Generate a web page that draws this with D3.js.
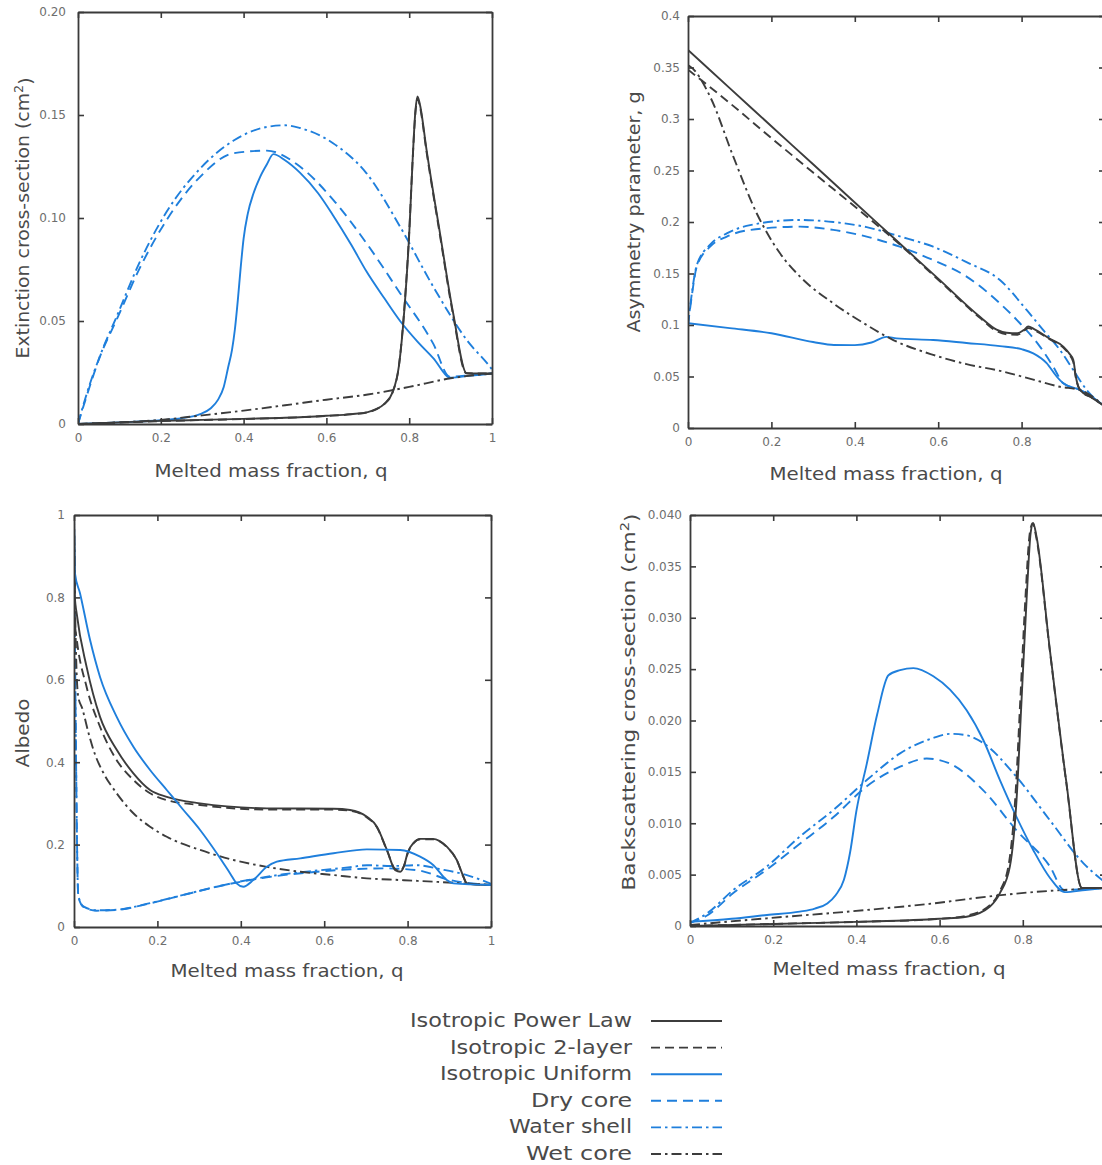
<!DOCTYPE html>
<html>
<head>
<meta charset="utf-8">
<script src="https://cdn.jsdelivr.net/npm/d3@7"></script>
<style>
  html, body { margin: 0; padding: 0; background: #ffffff; }
  svg { display: block; }
  text { font-family: "DejaVu Sans", "Open Sans", sans-serif; }
</style>
</head>
<body>
<svg id="fig" width="1102" height="1165"></svg>
<script>
// ---- Series labels (legend order) ----
const seriesNames = ["Isotropic Power Law", "Isotropic 2-layer", "Isotropic Uniform",
                     "Dry core", "Water shell", "Wet core"];

// ---- Shared x axis: melted mass fraction q ----
const qTicks = [0, 0.2, 0.4, 0.6, 0.8, 1];
const qTickLabels = ["0", "0.2", "0.4", "0.6", "0.8", "1"];

// ---- Extinction cross-section (cm^2), pairs [q, value] ----
const extTicks = [0, 0.05, 0.10, 0.15, 0.20];
const extTickLabels = ["0", "0.05", "0.10", "0.15", "0.20"];
const extPowerLaw = [[0,0],[0.1,0.0008],[0.2,0.0015],[0.3,0.002],[0.4,0.0025],[0.5,0.003],[0.6,0.004],[0.66,0.0048],[0.7,0.0058],[0.72,0.0072],[0.74,0.0098],[0.76,0.0155],[0.775,0.028],[0.79,0.06],[0.8,0.092],[0.808,0.127],[0.815,0.152],[0.82,0.159],[0.826,0.155],[0.842,0.133],[0.874,0.093],[0.906,0.054],[0.939,0.0246],[0.97,0.0245],[1,0.0245]];
const ext2Layer = [[0,0],[0.1,0.0007],[0.2,0.0014],[0.3,0.0019],[0.4,0.0024],[0.5,0.003],[0.6,0.0039],[0.66,0.0047],[0.7,0.0057],[0.72,0.0071],[0.74,0.0097],[0.76,0.0155],[0.775,0.028],[0.79,0.061],[0.8,0.093],[0.808,0.127],[0.815,0.151],[0.82,0.158],[0.826,0.154],[0.842,0.132],[0.874,0.092],[0.906,0.053],[0.938,0.0246],[0.97,0.0245],[1,0.0245]];
const extUniform = [[0,0],[0.1,0.0008],[0.2,0.0018],[0.25,0.0028],[0.295,0.0048],[0.32,0.0075],[0.338,0.0117],[0.352,0.018],[0.363,0.0278],[0.372,0.036],[0.379,0.046],[0.386,0.06],[0.393,0.076],[0.4,0.09],[0.41,0.102],[0.424,0.112],[0.44,0.12],[0.456,0.126],[0.472,0.131],[0.5,0.128],[0.536,0.122],[0.58,0.112],[0.617,0.101],[0.66,0.087],[0.697,0.074],[0.74,0.061],[0.778,0.05],[0.82,0.04],[0.858,0.032],[0.9,0.0225],[0.95,0.0235],[1,0.0245]];
const extDryCore = [[0,0],[0.02,0.013],[0.053,0.0327],[0.093,0.0505],[0.15,0.076],[0.214,0.099],[0.295,0.12],[0.375,0.1314],[0.456,0.1327],[0.536,0.125],[0.617,0.1087],[0.697,0.0877],[0.778,0.0635],[0.858,0.039],[0.898,0.023],[0.95,0.0237],[1,0.0245]];
const extWaterShell = [[0,0],[0.02,0.014],[0.053,0.033],[0.093,0.052],[0.15,0.079],[0.214,0.103],[0.295,0.124],[0.375,0.1375],[0.456,0.1442],[0.5,0.145],[0.536,0.1437],[0.617,0.1362],[0.697,0.1217],[0.778,0.0958],[0.858,0.0667],[0.939,0.0408],[0.995,0.0278],[1,0.0265]];
const extWetCore = [[0,0],[0.1,0.0008],[0.2,0.002],[0.3,0.0042],[0.4,0.0065],[0.5,0.0091],[0.6,0.0118],[0.7,0.0143],[0.8,0.018],[0.9,0.0222],[1,0.0245]];

// ---- Asymmetry parameter g ----
const asymTicks = [0, 0.05, 0.1, 0.15, 0.2, 0.25, 0.3, 0.35, 0.4];
const asymTickLabels = ["0", "0.05", "0.1", "0.15", "0.2", "0.25", "0.3", "0.35", "0.4"];
const asymPowerLaw = [[0,0.367],[0.1,0.33],[0.2,0.293],[0.3,0.256],[0.4,0.219],[0.5,0.182],[0.6,0.145],[0.7,0.108],[0.74,0.0955],[0.764,0.0925],[0.79,0.092],[0.805,0.095],[0.816,0.0985],[0.83,0.096],[0.868,0.0865],[0.9,0.079],[0.915,0.072],[0.924,0.066],[0.93,0.05],[0.94,0.037],[0.97,0.029],[1,0.021]];
const asym2Layer = [[0,0.348],[0.1,0.3155],[0.2,0.2815],[0.3,0.248],[0.4,0.215],[0.5,0.181],[0.6,0.144],[0.7,0.107],[0.74,0.094],[0.764,0.091],[0.79,0.0905],[0.805,0.094],[0.816,0.097],[0.83,0.095],[0.868,0.086],[0.9,0.078],[0.915,0.071],[0.924,0.064],[0.93,0.049],[0.94,0.037],[0.97,0.029],[1,0.021]];
const asymUniform = [[0,0.1017],[0.1,0.097],[0.2,0.092],[0.3,0.0835],[0.35,0.0806],[0.4,0.0805],[0.44,0.083],[0.476,0.0885],[0.5,0.087],[0.588,0.0854],[0.668,0.0825],[0.748,0.0795],[0.8,0.0765],[0.828,0.0725],[0.86,0.063],[0.884,0.05],[0.9,0.0434],[0.94,0.037],[1,0.021]];
const asymDryCore = [[0,0.1],[0.008,0.125],[0.021,0.1566],[0.053,0.176],[0.093,0.1858],[0.149,0.1923],[0.2686,0.1955],[0.3485,0.1923],[0.4285,0.1858],[0.508,0.176],[0.588,0.163],[0.668,0.147],[0.748,0.121],[0.796,0.1017],[0.844,0.079],[0.876,0.0595],[0.9,0.0434],[0.94,0.037],[1,0.021]];
const asymWaterShell = [[0,0.1],[0.008,0.127],[0.021,0.158],[0.053,0.178],[0.093,0.189],[0.149,0.197],[0.2686,0.202],[0.3485,0.2],[0.4285,0.195],[0.508,0.186],[0.588,0.176],[0.668,0.161],[0.748,0.1437],[0.812,0.1146],[0.852,0.095],[0.892,0.0757],[0.924,0.0563],[0.956,0.0369],[1,0.021]];
const asymWetCore = [[0,0.352],[0.005,0.351],[0.053,0.3217],[0.1087,0.2634],[0.1647,0.2085],[0.2206,0.1696],[0.2686,0.147],[0.3485,0.121],[0.4285,0.1],[0.4924,0.0854],[0.588,0.071],[0.668,0.062],[0.748,0.0555],[0.828,0.047],[0.892,0.04],[0.94,0.0369],[1,0.021]];

// ---- Albedo ----
const albTicks = [0, 0.2, 0.4, 0.6, 0.8, 1];
const albTickLabels = ["0", "0.2", "0.4", "0.6", "0.8", "1"];
const albPowerLaw = [[0,1],[0.002,0.8],[0.0064,0.761],[0.0301,0.632],[0.0624,0.51],[0.1024,0.43],[0.1424,0.373],[0.1824,0.3325],[0.2224,0.316],[0.3024,0.3],[0.4624,0.288],[0.6224,0.287],[0.662,0.284],[0.7024,0.2675],[0.7264,0.2435],[0.7504,0.187],[0.7704,0.138],[0.7824,0.134],[0.792,0.15],[0.8,0.18],[0.815,0.205],[0.83,0.214],[0.86,0.214],[0.894,0.195],[0.918,0.1626],[0.934,0.122],[0.942,0.106],[0.97,0.103],[1,0.102]];
const alb2Layer = [[0,1],[0.002,0.74],[0.0064,0.7],[0.0301,0.583],[0.0624,0.486],[0.1024,0.405],[0.1424,0.357],[0.1824,0.3245],[0.2224,0.308],[0.3024,0.296],[0.4624,0.285],[0.6224,0.285],[0.662,0.282],[0.7024,0.266],[0.7264,0.242],[0.7504,0.186],[0.7704,0.14],[0.7824,0.136],[0.792,0.15],[0.8,0.178],[0.815,0.204],[0.83,0.213],[0.86,0.213],[0.894,0.194],[0.918,0.162],[0.934,0.121],[0.942,0.106],[0.97,0.103],[1,0.102]];
const albUniform = [[0,1],[0.002,0.86],[0.0144,0.81],[0.0384,0.697],[0.0624,0.607],[0.1024,0.51],[0.1424,0.4375],[0.1824,0.381],[0.2224,0.3325],[0.2624,0.284],[0.3024,0.2354],[0.3424,0.179],[0.3744,0.13],[0.39,0.106],[0.406,0.0978],[0.43,0.114],[0.4624,0.146],[0.4864,0.1585],[0.5424,0.1667],[0.6224,0.179],[0.7024,0.1885],[0.7824,0.187],[0.83,0.1707],[0.862,0.15],[0.894,0.114],[0.91,0.106],[1,0.102]];
const albDryCore = [[0,1],[0.004,0.5],[0.0104,0.0736],[0.0224,0.049],[0.0544,0.0396],[0.1024,0.0413],[0.1824,0.0575],[0.2624,0.0777],[0.3424,0.0978],[0.4224,0.114],[0.5024,0.126],[0.5824,0.134],[0.662,0.14],[0.742,0.1424],[0.822,0.138],[0.902,0.114],[1,0.102]];
const albWaterShell = [[0,1],[0.004,0.5],[0.0104,0.076],[0.0224,0.05],[0.0544,0.0405],[0.1024,0.042],[0.1824,0.058],[0.2624,0.078],[0.3424,0.098],[0.4224,0.115],[0.5024,0.128],[0.5824,0.137],[0.662,0.145],[0.7024,0.15],[0.76,0.148],[0.822,0.15],[0.88,0.14],[0.942,0.126],[1,0.105]];
const albWetCore = [[0,1],[0.004,0.7],[0.01,0.56],[0.02,0.53],[0.035,0.47],[0.05,0.42],[0.07,0.375],[0.1024,0.3245],[0.1424,0.276],[0.1824,0.2435],[0.2224,0.219],[0.3024,0.187],[0.3824,0.1626],[0.4624,0.146],[0.5424,0.134],[0.6224,0.126],[0.7024,0.118],[0.7824,0.114],[0.862,0.11],[1,0.102]];

// ---- Backscattering cross-section (cm^2) ----
const backTicks = [0, 0.005, 0.010, 0.015, 0.020, 0.025, 0.030, 0.035, 0.040];
const backTickLabels = ["0", "0.005", "0.010", "0.015", "0.020", "0.025", "0.030", "0.035", "0.040"];
const backPowerLaw = [[0,0],[0.2,0.0002],[0.4,0.0004],[0.6,0.0007],[0.665,0.0009],[0.7212,0.0019],[0.745,0.0032],[0.769,0.0058],[0.785,0.0123],[0.797,0.022],[0.809,0.0317],[0.819,0.0383],[0.825,0.0392],[0.833,0.0379],[0.865,0.0269],[0.905,0.0139],[0.942,0.0037],[0.97,0.0037],[1,0.0037]];
const back2Layer = [[0,0],[0.2,0.0002],[0.4,0.0004],[0.6,0.0007],[0.665,0.001],[0.72,0.002],[0.745,0.0034],[0.767,0.0062],[0.782,0.0125],[0.794,0.022],[0.806,0.0317],[0.817,0.0383],[0.824,0.0392],[0.832,0.0379],[0.865,0.0268],[0.905,0.0138],[0.942,0.0037],[0.97,0.0037],[1,0.0037]];
const backUniform = [[0,0.0004],[0.1,0.0007],[0.185,0.00107],[0.264,0.0014],[0.3,0.0017],[0.33,0.0022],[0.35,0.003],[0.37,0.0045],[0.385,0.0072],[0.4,0.0112],[0.425,0.0158],[0.45,0.0206],[0.477,0.0244],[0.505,0.0249],[0.537,0.0251],[0.585,0.0243],[0.625,0.023],[0.665,0.021],[0.705,0.0181],[0.745,0.0142],[0.785,0.0106],[0.825,0.0074],[0.865,0.0047],[0.901,0.0033],[0.95,0.0035],[1,0.0037]];
const backDryCore = [[0,0.0003],[0.04,0.001],[0.104,0.0032],[0.185,0.0055],[0.264,0.008],[0.345,0.0106],[0.425,0.0136],[0.505,0.0155],[0.569,0.0163],[0.625,0.0158],[0.705,0.0132],[0.785,0.0093],[0.865,0.0058],[0.9,0.0035],[0.95,0.0036],[1,0.0037]];
const backWaterShell = [[0,0.0003],[0.04,0.0012],[0.104,0.0035],[0.185,0.0058],[0.264,0.0087],[0.345,0.0113],[0.425,0.0142],[0.505,0.0168],[0.585,0.0183],[0.625,0.0187],[0.66,0.0186],[0.705,0.0178],[0.785,0.0145],[0.865,0.0103],[0.946,0.0061],[0.99,0.0045],[1,0.0042]];
const backWetCore = [[0,0.0001],[0.185,0.00075],[0.425,0.00156],[0.585,0.0022],[0.713,0.00285],[0.825,0.0033],[0.897,0.0035],[1,0.0037]];

// ---- Line styles, in legend order ----
const GRAY = "#3c3c3c", BLUE = "#1f7fdc";
const styles = [
  { color: GRAY, dash: null },
  { color: GRAY, dash: "9,5" },
  { color: BLUE, dash: null },
  { color: BLUE, dash: "10,6" },
  { color: BLUE, dash: "10,4,2.5,4" },
  { color: GRAY, dash: "10,4,2.5,4" }
];

// ---- Panel layout ----
const panels = [
  { left: 78,  top: 12,  right: 492,  bottom: 424, yMax: 0.20, yTicks: extTicks,  yLabels: extTickLabels, pad: 12,
    series: [extUniform, extDryCore, extWaterShell, extWetCore, ext2Layer, extPowerLaw],
    order: [2, 3, 4, 5, 1, 0],
    yTitle: ["Extinction cross-section (cm", "2", ")"], yTitleX: 29, yTitleY: 218, yTitleLen: 281,
    xTitleX: 271, xTitleY: 477 },
  { left: 688, top: 16,  right: 1105, bottom: 428, yMax: 0.4,  yTicks: asymTicks, yLabels: asymTickLabels, pad: 8,
    series: [asymUniform, asymDryCore, asymWaterShell, asymWetCore, asym2Layer, asymPowerLaw],
    order: [2, 3, 4, 5, 1, 0],
    yTitle: ["Asymmetry parameter, g"], yTitleX: 640, yTitleY: 212, yTitleLen: 241,
    xTitleX: 886, xTitleY: 480 },
  { left: 74,  top: 515, right: 491,  bottom: 927, yMax: 1,    yTicks: albTicks,  yLabels: albTickLabels, pad: 9,
    series: [albDryCore, albWaterShell, albWetCore, alb2Layer, albPowerLaw, albUniform],
    order: [3, 4, 5, 1, 0, 2],
    yTitle: ["Albedo"], yTitleX: 29, yTitleY: 733, yTitleLen: 69,
    xTitleX: 287, xTitleY: 977 },
  { left: 690, top: 515, right: 1106, bottom: 926, yMax: 0.040, yTicks: backTicks, yLabels: backTickLabels, pad: 8,
    series: [backDryCore, backWaterShell, backWetCore, backUniform, back2Layer, backPowerLaw],
    order: [3, 4, 5, 2, 1, 0],
    yTitle: ["Backscattering cross-section (cm", "2", ")"], yTitleX: 635, yTitleY: 702, yTitleLen: 377,
    xTitleX: 889, xTitleY: 975 }
];

const W = 1102, H = 1165;
const svg = d3.select("#fig");
svg.append("rect").attr("width", W).attr("height", H).attr("fill", "#ffffff");

const AXIS_COLOR = "#3a3a3a", LABEL_COLOR = "#6e6e6e", TITLE_COLOR = "#4a4a4a";

function addTitle(g, parts, attrs) {
  const t = g.append("text");
  Object.entries(attrs).forEach(([k, v]) => t.attr(k, v));
  parts.forEach((p, i) => {
    const sp = t.append("tspan").text(p);
    if (parts.length === 3 && i === 1) sp.attr("dy", "-0.45em").attr("font-size", "0.68em");
    if (parts.length === 3 && i === 2) sp.attr("dy", "0.45em");
  });
  return t;
}

panels.forEach(p => {
  const x = d3.scaleLinear().domain([0, 1]).range([p.left, p.right]);
  const y = d3.scaleLinear().domain([0, p.yMax]).range([p.bottom, p.top]);
  const g = svg.append("g");

  // curves
  const line = d3.line().x(d => x(d[0])).y(d => y(d[1])).curve(d3.curveMonotoneX);
  const clipId = "clip" + p.left + "_" + p.top;
  svg.append("clipPath").attr("id", clipId).append("rect")
    .attr("x", p.left).attr("y", p.top - 2).attr("width", p.right - p.left).attr("height", p.bottom - p.top + 2);
  const curves = g.append("g").attr("clip-path", `url(#${clipId})`);
  p.series.forEach((s, i) => {
    const st = styles[p.order[i]];
    curves.append("path").datum(s)
      .attr("d", line)
      .attr("fill", "none")
      .attr("stroke", st.color)
      .attr("stroke-width", 1.9)
      .attr("stroke-linejoin", "round")
      .attr("stroke-dasharray", st.dash);
  });

  // axes: labelled bottom/left, tick-only top/right, ticks pointing inwards
  const fmtX = (d, i) => qTickLabels[i];
  const fmtY = (d, i) => p.yLabels[i];
  const styleAxis = sel => {
    sel.select(".domain").attr("stroke", AXIS_COLOR).attr("stroke-width", 1.8);
    sel.selectAll(".tick line").attr("stroke", AXIS_COLOR).attr("stroke-width", 1.6);
    sel.selectAll(".tick text").attr("fill", LABEL_COLOR).attr("font-size", 12)
      .attr("font-family", "DejaVu Sans, sans-serif");
  };
  const bottomAxis = g.append("g").attr("transform", `translate(0,${p.bottom})`)
    .call(d3.axisBottom(x).tickValues(qTicks).tickFormat(fmtX).tickSizeInner(-6).tickSizeOuter(0).tickPadding(9))
    .call(styleAxis);
  // labels whose tick falls past the page edge are not drawn
  bottomAxis.selectAll(".tick").filter(d => x(d) > W - 6).select("text").remove();
  g.append("g").attr("transform", `translate(0,${p.top})`)
    .call(d3.axisTop(x).tickValues(qTicks).tickFormat("").tickSizeInner(-6).tickSizeOuter(0))
    .call(styleAxis);
  g.append("g").attr("transform", `translate(${p.left},0)`)
    .call(d3.axisLeft(y).tickValues(p.yTicks).tickFormat(fmtY).tickSizeInner(-6).tickSizeOuter(0).tickPadding(p.pad))
    .call(styleAxis);
  g.append("g").attr("transform", `translate(${p.right},0)`)
    .call(d3.axisRight(y).tickValues(p.yTicks).tickFormat("").tickSizeInner(-6).tickSizeOuter(0))
    .call(styleAxis);

  // axis titles
  addTitle(g, ["Melted mass fraction, q"], {
    x: p.xTitleX, y: p.xTitleY, "text-anchor": "middle", "font-size": 18.5,
    fill: TITLE_COLOR, textLength: 233, lengthAdjust: "spacingAndGlyphs"
  });
  addTitle(g, p.yTitle, {
    transform: `translate(${p.yTitleX},${p.yTitleY}) rotate(-90)`, "text-anchor": "middle",
    "font-size": 18.5, fill: TITLE_COLOR, textLength: p.yTitleLen, lengthAdjust: "spacingAndGlyphs"
  });
});

// ---- Legend ----
const legend = svg.append("g");
const legendWidths = [222, 182, 192, 101, 123, 106];
seriesNames.forEach((name, i) => {
  const base = 1027 + i * 26.6;
  legend.append("text")
    .attr("x", 632).attr("y", base)
    .attr("text-anchor", "end").attr("font-size", 20).attr("fill", TITLE_COLOR)
    .attr("textLength", legendWidths[i]).attr("lengthAdjust", "spacingAndGlyphs")
    .text(name);
  legend.append("line")
    .attr("x1", 651).attr("x2", 722).attr("y1", base - 6).attr("y2", base - 6)
    .attr("stroke", styles[i].color).attr("stroke-width", 1.9)
    .attr("stroke-dasharray", styles[i].dash);
});
</script>
</body>
</html>
